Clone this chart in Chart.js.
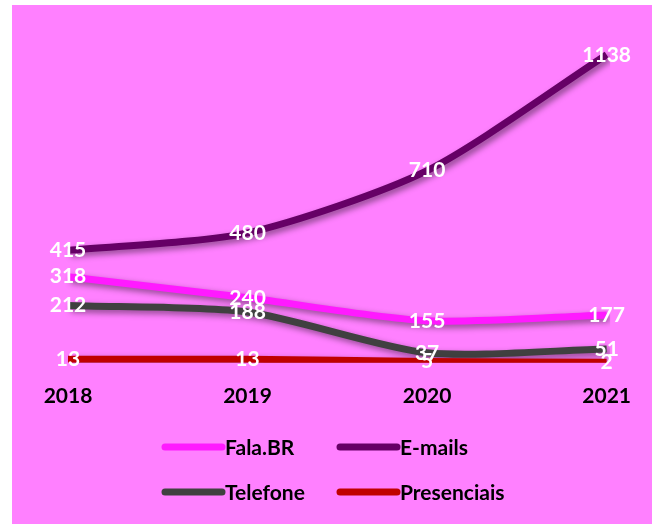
<!DOCTYPE html>
<html>
<head>
<meta charset="utf-8">
<script src="https://cdn.jsdelivr.net/npm/chart.js@4"></script>
<style>
    html, body { margin: 0; padding: 0; background: #ffffff; }
    #wrap {
        position: absolute;
        left: 12px;
        top: 5px;
        width: 640px;
        height: 519px;
        background: #ff80ff;
    }
</style>
</head>
<body>
<div id="wrap"><canvas id="atendimentos" width="640" height="519"></canvas></div>
<script>
// Dados por canal de atendimento
const anos = ['2018', '2019', '2020', '2021'];
const falaBR = [318, 240, 155, 177];
const emails = [415, 480, 710, 1138];
const telefone = [212, 188, 37, 51];
const presenciais = [13, 13, 5, 2];

const fonte = 'Lato, "Liberation Sans", sans-serif';

// sombra das linhas, como no Excel
const sombraPlugin = {
    id: 'sombra',
    beforeDatasetsDraw(chart) {
        const ctx = chart.ctx;
        ctx.save();
        ctx.shadowColor = 'rgba(0, 0, 0, 0.45)';
        ctx.shadowBlur = 6;
        ctx.shadowOffsetX = 3;
        ctx.shadowOffsetY = 3;
    },
    afterDatasetsDraw(chart) {
        chart.ctx.restore();
    }
};

// rótulos de dados brancos no centro de cada ponto
const rotulosPlugin = {
    id: 'rotulos',
    afterDatasetsDraw(chart) {
        const ctx = chart.ctx;
        ctx.save();
        ctx.font = 'bold 21px ' + fonte;
        ctx.fillStyle = '#ffffff';
        ctx.textAlign = 'center';
        ctx.textBaseline = 'middle';
        chart.data.datasets.forEach((ds, i) => {
            const meta = chart.getDatasetMeta(i);
            meta.data.forEach((pt, j) => {
                ctx.fillText(String(ds.data[j]), pt.x, pt.y);
            });
        });
        ctx.restore();
    }
};

// legenda em duas colunas, abaixo do gráfico
const legendaPlugin = {
    id: 'legenda',
    afterDraw(chart) {
        const ctx = chart.ctx;
        const colunas = [153, 328];
        const linhas = [442, 487];
        ctx.save();
        ctx.font = 'bold 21px ' + fonte;
        ctx.textBaseline = 'middle';
        ctx.textAlign = 'left';
        chart.data.datasets.forEach((ds, i) => {
            const x = colunas[i % 2];
            const y = linhas[Math.floor(i / 2)];
            ctx.strokeStyle = ds.borderColor;
            ctx.lineWidth = 7;
            ctx.lineCap = 'round';
            ctx.beginPath();
            ctx.moveTo(x, y);
            ctx.lineTo(x + 57, y);
            ctx.stroke();
            ctx.fillStyle = '#000000';
            ctx.fillText(ds.label, x + 60, y + 1);
        });
        ctx.restore();
    }
};

const ctx = document.getElementById('atendimentos').getContext('2d');

new Chart(ctx, {
    type: 'line',
    data: {
        labels: anos,
        datasets: [
            { label: 'Fala.BR', data: falaBR, borderColor: '#ff1aff', order: 3 },
            { label: 'E-mails', data: emails, borderColor: '#660066', order: 2 },
            { label: 'Telefone', data: telefone, borderColor: '#404040', order: 1 },
            { label: 'Presenciais', data: presenciais, borderColor: '#c00000', order: 0 }
        ]
    },
    options: {
        responsive: false,
        animation: false,
        layout: {
            padding: { left: 56, right: 45, top: 33, bottom: 94 }
        },
        elements: {
            line: {
                borderWidth: 7,
                tension: 0.25,
                borderCapStyle: 'butt',
                fill: false
            },
            point: {
                radius: 0,
                hoverRadius: 0
            }
        },
        plugins: {
            legend: { display: false },
            tooltip: { enabled: false }
        },
        scales: {
            x: {
                grid: { display: false, drawTicks: false },
                border: { display: false },
                ticks: {
                    color: '#000000',
                    padding: 21,
                    font: { family: fonte, size: 21, weight: 'bold' }
                }
            },
            y: {
                display: false,
                min: 0,
                max: 1200
            }
        }
    },
    plugins: [sombraPlugin, rotulosPlugin, legendaPlugin]
});
</script>
</body>
</html>
